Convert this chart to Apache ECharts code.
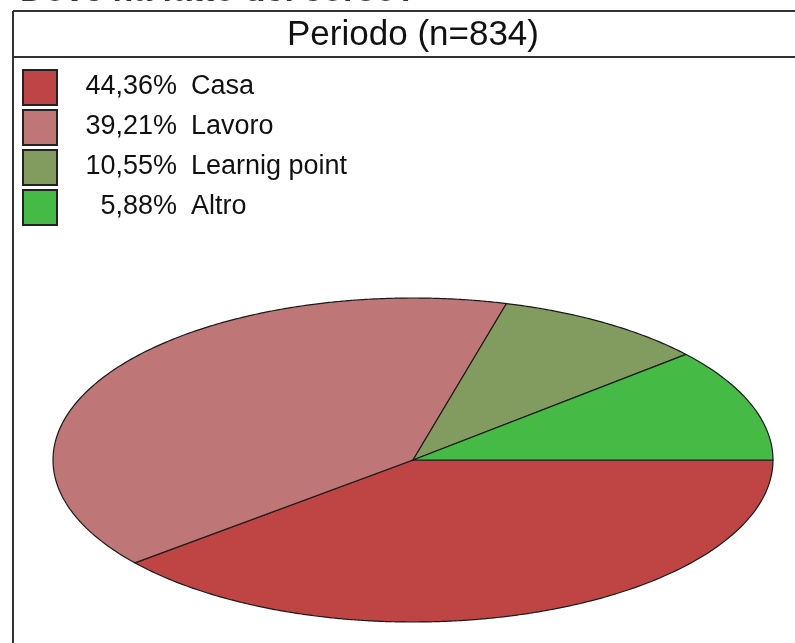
<!DOCTYPE html>
<html>
<head>
<meta charset="utf-8">
<script src="https://cdn.jsdelivr.net/npm/echarts@6/dist/echarts.min.js"></script>
<style>
html, body { margin: 0; padding: 0; background: #fff; }
#chart { width: 795px; height: 643px; }
</style>
</head>
<body>
<div id="chart"></div>
<script>
var pageTitle = 'Dove ha fatto del corso?';
var panelTitle = 'Periodo (n=834)';
var categories = ['Casa', 'Lavoro', 'Learnig point', 'Altro'];
var percentages = [44.36, 39.21, 10.55, 5.88];
var sliceColors = ['#BF4545', '#BF7676', '#829B5E', '#45BB45'];

var total = percentages.reduce(function (s, v) { return s + v; }, 0);
var FONT = '"Liberation Sans", Arial, sans-serif';

function fmtPct(v) {
	return v.toFixed(2).replace('.', ',') + '%';
}

// slice drawn on the ellipse, angles measured on screen (clockwise from 3 o'clock)
function renderSlice(params, api) {
	var idx = params.dataIndex;
	var before = 0;
	for (var i = 0; i < idx; i++) before += percentages[i];
	var t0 = before / total * Math.PI * 2;
	var t1 = (before + api.value(1)) / total * Math.PI * 2;
	var c = api.coord([0, 0]);
	var sz = api.size([1, 1]);
	var a = sz[0], b = sz[1];
	var pts = [[c[0], c[1]]];
	var steps = Math.max(4, Math.ceil((t1 - t0) / 0.01));
	for (var k = 0; k <= steps; k++) {
		var t = t0 + (t1 - t0) * k / steps;
		var r = a * b / Math.sqrt(Math.pow(b * Math.cos(t), 2) + Math.pow(a * Math.sin(t), 2));
		pts.push([c[0] + r * Math.cos(t), c[1] + r * Math.sin(t)]);
	}
	return {
		type: 'polygon',
		shape: { points: pts },
		style: { fill: sliceColors[idx], stroke: '#1a1a1a', lineWidth: 1.2 }
	};
}

var graphics = [
	// page title, mostly cut off by the top edge
	{ type: 'text', x: 20, y: 9, style: { text: pageTitle, font: 'bold 34px ' + FONT, fill: '#333', verticalAlign: 'bottom' } },
	{ type: 'line', shape: { x1: 13, y1: 11, x2: 800, y2: 11 }, style: { stroke: '#333', lineWidth: 2 } },
	{ type: 'line', shape: { x1: 13, y1: 57, x2: 800, y2: 57 }, style: { stroke: '#333', lineWidth: 2 } },
	{ type: 'line', shape: { x1: 13, y1: 11, x2: 13, y2: 650 }, style: { stroke: '#333', lineWidth: 2 } },
	{ type: 'text', x: 413, y: 35, style: { text: panelTitle, font: '35px ' + FONT, fill: '#111', align: 'center', verticalAlign: 'middle' } }
];
categories.forEach(function (name, i) {
	var cy = 87 + i * 40;
	graphics.push({ type: 'rect', shape: { x: 23, y: cy - 17, width: 34, height: 35 },
		style: { fill: sliceColors[i], stroke: '#222', lineWidth: 2 } });
	graphics.push({ type: 'text', x: 177, y: cy, style: { text: fmtPct(percentages[i]), font: '27px ' + FONT,
		fill: '#111', align: 'right', verticalAlign: 'middle' } });
	graphics.push({ type: 'text', x: 191, y: cy, style: { text: name, font: '27px ' + FONT,
		fill: '#111', align: 'left', verticalAlign: 'middle' } });
});

var myChart = echarts.init(document.getElementById('chart'));
var option = {
	animation: false,
	backgroundColor: '#fff',
	grid: { left: 53, right: 22, top: 298, bottom: 21 },
	xAxis: { type: 'value', min: -1, max: 1, show: false },
	yAxis: { type: 'value', min: -1, max: 1, show: false },
	graphic: graphics,
	series: [{
		type: 'custom',
		renderItem: renderSlice,
		data: categories.map(function (n, i) { return { name: n, value: [i, percentages[i]] }; }),
		encode: { x: 0, y: 1 },
		clip: false
	}]
};
myChart.setOption(option);
</script>
</body>
</html>
